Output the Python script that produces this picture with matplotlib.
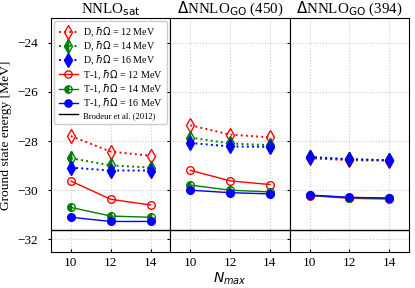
import matplotlib.pyplot as plt

plt.rcParams['font.family'] = ['Liberation Serif', 'DejaVu Serif']

nmax = [10, 12, 14]
panel_titles = [r'NNLO$_\mathrm{sat}$', r'$\Delta$NNLO$_\mathrm{GO}$ (450)', r'$\Delta$NNLO$_\mathrm{GO}$ (394)']
brodeur = -31.6

# D energies per panel, for hw = 12, 14, 16 MeV
d_sat = [[-27.8, -28.43, -28.6], [-28.7, -28.99, -29.08], [-29.08, -29.2, -29.2]]
d_450 = [[-27.36, -27.74, -27.85], [-27.86, -28.1, -28.17], [-28.08, -28.22, -28.24]]
d_394 = [[-28.7, -28.78, -28.8], [-28.66, -28.75, -28.78], [-28.65, -28.74, -28.78]]
# T-1 energies per panel
t_sat = [[-29.63, -30.37, -30.6], [-30.7, -31.05, -31.1], [-31.1, -31.27, -31.27]]
t_450 = [[-29.19, -29.62, -29.77], [-29.79, -30.0, -30.07], [-30.0, -30.1, -30.15]]
t_394 = [[-30.22, -30.33, -30.36], [-30.2, -30.3, -30.33], [-30.2, -30.29, -30.32]]

hw = [12, 14, 16]
colors = ['red', 'green', 'blue']
fills = ['none', 'left', 'full']

fig, axes = plt.subplots(1, 3, figsize=(4.15, 2.88), dpi=100, sharey=True)
fig.subplots_adjust(left=0.123, right=0.986, top=0.9375, bottom=0.126, wspace=0)

for ax, title, dd, tt in zip(axes, panel_titles, [d_sat, d_450, d_394], [t_sat, t_450, t_394]):
    for i in range(3):
        ax.plot(nmax, dd[i], ls=':', marker='d', color=colors[i], fillstyle=fills[i],
                markersize=7.5, lw=1.4, label=r'D, $\hbar\Omega$ = %d MeV' % hw[i])
    for i in range(3):
        ax.plot(nmax, tt[i], ls='-', marker='o', color=colors[i], fillstyle=fills[i],
                markersize=5.5, lw=1, label=r'T-1, $\hbar\Omega$ = %d MeV' % hw[i])
    ax.axhline(brodeur, color='black', lw=1, label='Brodeur et al. (2012)')
    ax.set_title(title, fontsize=10.8, pad=1.5)
    ax.set_xlim(9, 15)
    ax.set_xticks(nmax)
    ax.grid(True, ls=':', color='#cccccc', lw=0.8)
    ax.tick_params(axis='x', direction='in', length=2, pad=4, labelsize=9.5)
    ax.tick_params(axis='y', direction='out', length=2.5, pad=7, labelsize=9.5)

axes[0].set_ylim(-32.5, -23)
axes[0].set_yticks([-32, -30, -28, -26, -24])
axes[0].set_ylabel('Ground state energy [MeV]', fontsize=9.7, labelpad=4)
axes[1].set_xlabel(r'$N_{max}$', fontsize=10, labelpad=1)
leg = axes[0].legend(loc='upper center', fontsize=7.2, handlelength=1.9, handletextpad=0.5,
                     labelspacing=0.08, borderpad=0.45, borderaxespad=0.3, markerscale=0.95,
                     framealpha=1)
leg.get_frame().set_edgecolor('#cccccc')
leg.get_texts()[-1].set_fontsize(6.2)

fig.savefig('out.png', dpi=100)
